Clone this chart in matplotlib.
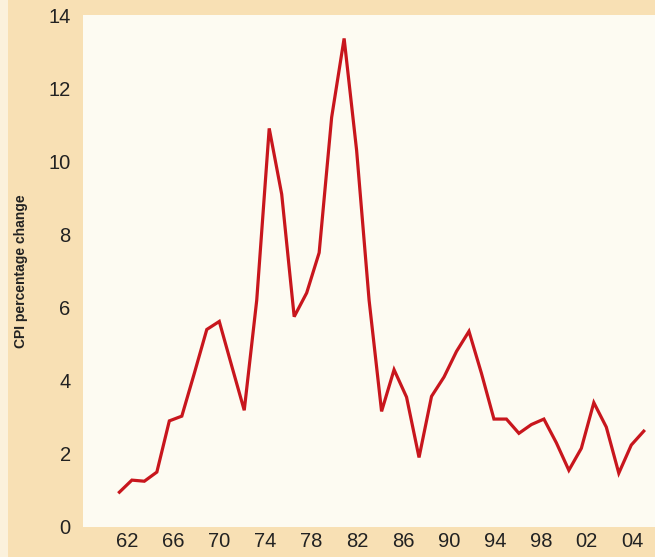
# CPI percentage change, 1962-2004
import matplotlib.pyplot as plt
from matplotlib.patches import Rectangle

years = list(range(1962, 2005))
cpi_change = [
    0.95, 1.28, 1.25, 1.5, 2.9, 3.03, 4.2, 5.4, 5.62, 4.4,
    3.19, 6.2, 10.9, 9.1, 5.75, 6.4, 7.5, 11.2, 13.36, 10.3,
    6.2, 3.16, 4.3, 3.55, 1.9, 3.57, 4.1, 4.8, 5.35, 4.2,
    2.95, 2.95, 2.56, 2.8, 2.95, 2.3, 1.55, 2.15, 3.4, 2.73,
    1.47, 2.24, 2.62,
]
x_labels = ["62", "66", "70", "74", "78", "82", "86", "90", "94", "98", "02", "04"]
y_ticks = [0, 2, 4, 6, 8, 10, 12, 14]

BG = "#f8e0b4"
PANEL = "#fdfbf2"
LINE = "#c8161d"

plt.rcParams["font.family"] = ["Liberation Sans", "DejaVu Sans"]

fig = plt.figure(figsize=(6.55, 5.57), dpi=100, facecolor=BG)
# paler strip along the left edge of the page
fig.patches.append(Rectangle((0, 0), 0.012, 1, transform=fig.transFigure,
                             facecolor="#fbf1dc", edgecolor="none", zorder=0))

ax = fig.add_axes([0.127, 0.054, 0.873, 0.919])
ax.set_facecolor(PANEL)
ax.plot(years, cpi_change, color=LINE, lw=2.3, solid_joinstyle="miter")

ax.set_xlim(1959.1, 2004.9)
ax.set_ylim(0, 14)

# the printed year labels are evenly spaced and don't sit exactly on their years
label_pos = [1962.64 + i * 3.68 for i in range(len(x_labels))]
ax.set_xticks(label_pos)
ax.set_xticklabels(x_labels)
ax.set_yticks(y_ticks)
ax.tick_params(length=0, labelsize=14.5, colors="#222222")
ax.tick_params(axis="x", pad=4)
ax.tick_params(axis="y", pad=9)
for s in ax.spines.values():
    s.set_visible(False)

ax.set_ylabel("CPI percentage change", fontsize=10, fontweight="bold",
              color="#222222")
ax.yaxis.set_label_coords(-0.097, 0.50)

fig.savefig("out.png", dpi=100, facecolor=BG)
